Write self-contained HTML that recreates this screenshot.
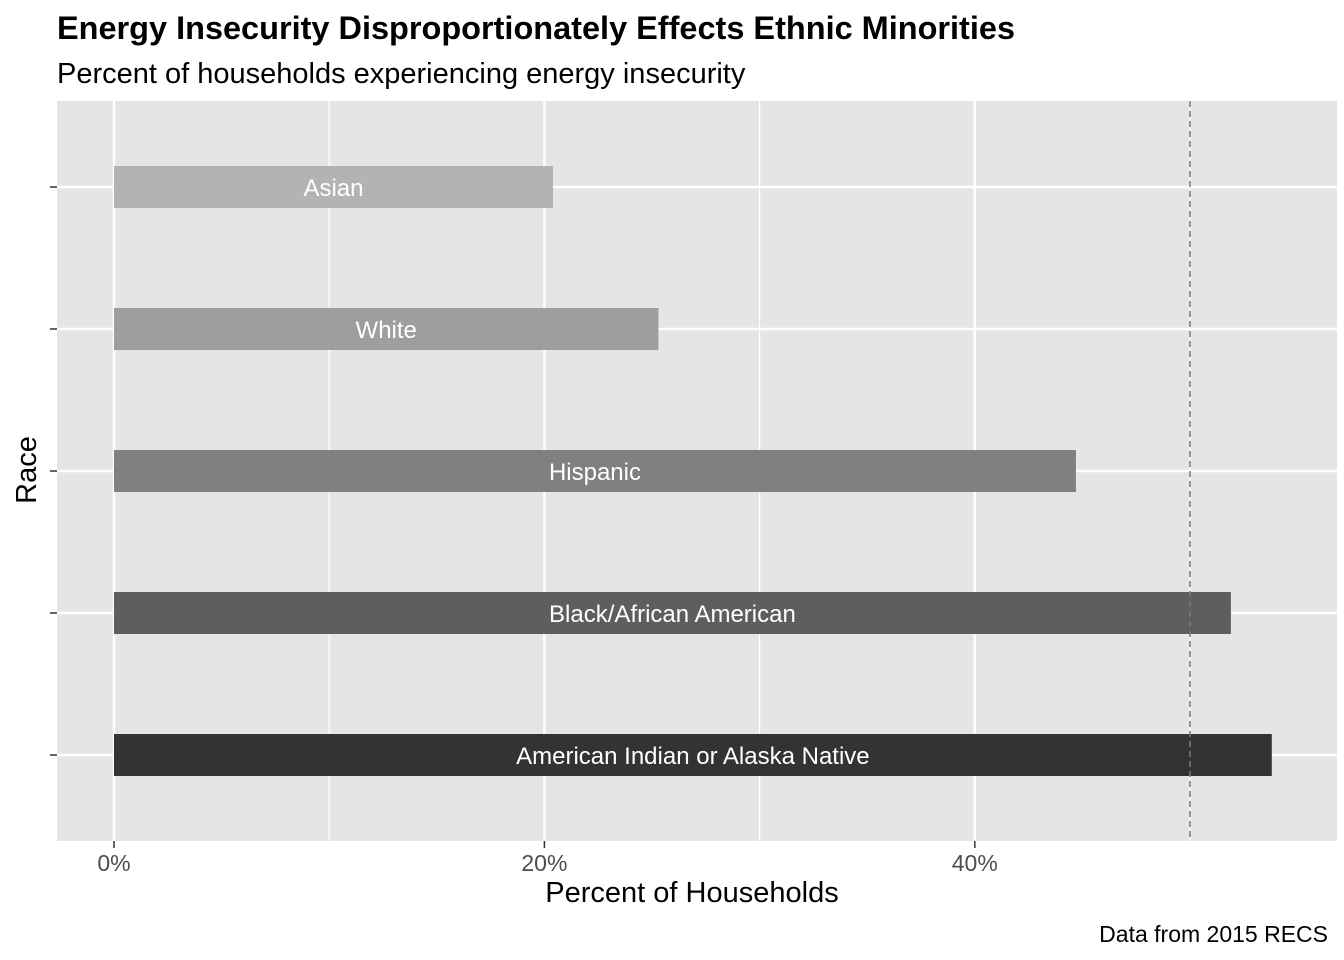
<!DOCTYPE html>
<html><head><meta charset="utf-8"><style>
body{margin:0;background:#fff;}
svg{display:block;font-family:"Liberation Sans",Arial,sans-serif;}
</style></head><body>
<svg id="chart" width="1344" height="960" xmlns="http://www.w3.org/2000/svg">
<text x="57" y="39" font-size="32" font-weight="bold" fill="#000" textLength="958" lengthAdjust="spacingAndGlyphs">Energy Insecurity Disproportionately Effects Ethnic Minorities</text>
<text x="57" y="83" font-size="29" fill="#000">Percent of households experiencing energy insecurity</text>
<rect x="57" y="101" width="1280" height="740" fill="#e5e5e5"/>
<g id="grid"></g>
<g id="bars"></g>
<g id="xticks"></g>
<text x="692" y="902" font-size="29" text-anchor="middle" fill="#000">Percent of Households</text>
<text transform="translate(36,470) rotate(-90)" font-size="29" text-anchor="middle" fill="#000">Race</text>
<text x="1328" y="942" font-size="23" text-anchor="end" fill="#000">Data from 2015 RECS</text>
</svg>
<script>
const categories = ["Asian","White","Hispanic","Black/African American","American Indian or Alaska Native"];
const values = [20.4, 25.3, 44.7, 51.9, 53.8];
const colors = ["#b3b3b3","#9e9e9e","#808080","#5e5e5e","#333333"];
const xTicks = [0, 20, 40];
const xTickLabels = ["0%","20%","40%"];
const minorTicks = [10, 30, 50];
const refLine = 50;
const NS="http://www.w3.org/2000/svg";
const x = v => 114 + v*21.52;
const y = i => 187 + i*142;
function mk(tag, attrs, parent){const e=document.createElementNS(NS,tag);for(const k in attrs)e.setAttribute(k,attrs[k]);document.getElementById(parent).appendChild(e);return e;}
minorTicks.forEach(t=>{const l=mk('line',{x1:x(t),x2:x(t),y1:101,y2:841,stroke:'#fff','stroke-width':1.2},'grid');

});
xTicks.forEach((t,i)=>{const l=mk('line',{x1:x(t),x2:x(t),y1:101,y2:841,stroke:'#fff','stroke-width':2.4},'grid');


const tk=mk('line',{x1:x(t),x2:x(t),y1:841,y2:848,stroke:'#333','stroke-width':1.5},'xticks');


const tx=mk('text',{x:x(t),y:871,'font-size':23,'text-anchor':'middle',fill:'#4d4d4d'},'xticks');
tx.textContent=xTickLabels[i];

});
categories.forEach((c,i)=>{const l=mk('line',{x1:57,x2:1337,y1:y(i),y2:y(i),stroke:'#fff','stroke-width':2.4},'grid');


const tk=mk('line',{x1:50,x2:57,y1:y(i),y2:y(i),stroke:'#333','stroke-width':1.5},'grid');


const r=mk('rect',{x:x(0),y:y(i)-21,width:x(values[i])-x(0),height:42,fill:colors[i]},'bars');


const t=mk('text',{x:(x(0)+x(values[i]))/2,y:y(i)+9,'font-size':24,'text-anchor':'middle',fill:'#fff'},'bars');
t.textContent=c;

});
const rl=mk('line',{x1:x(refLine),x2:x(refLine),y1:101,y2:841,stroke:'#7a7a7a','stroke-width':1.5,'stroke-dasharray':'6,4'},'bars');


</script>
</body></html>
